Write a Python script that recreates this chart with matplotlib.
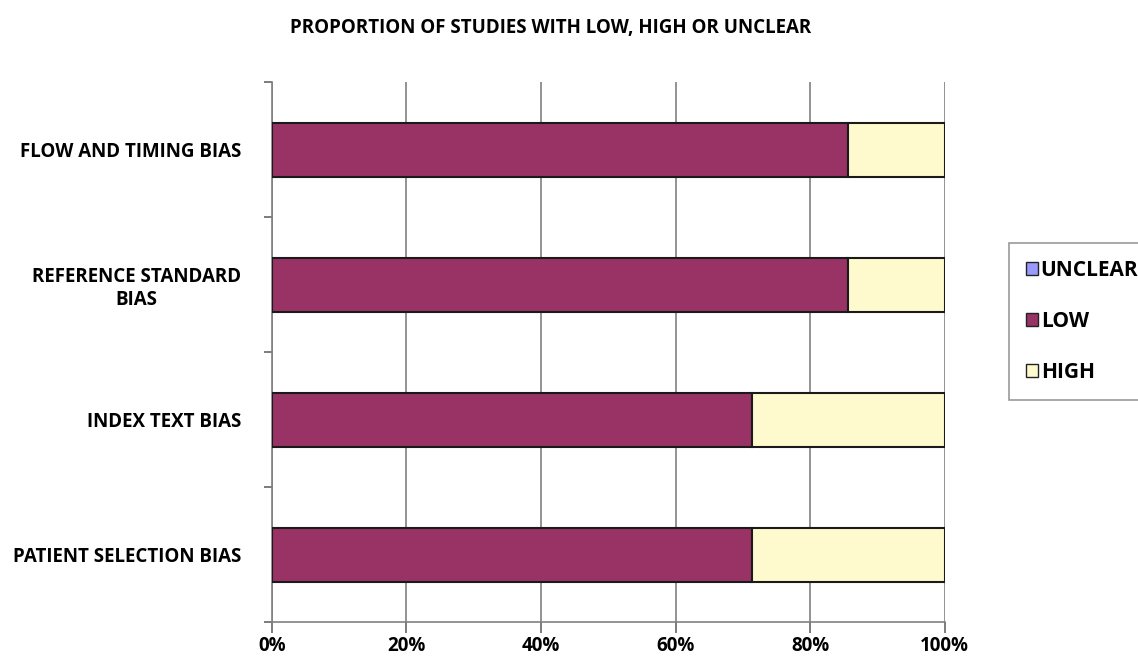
import matplotlib
matplotlib.use("Agg")
import matplotlib.pyplot as plt
from matplotlib.patches import Patch
from matplotlib.ticker import FixedLocator

plt.rcParams['font.family'] = ['Open Sans', 'DejaVu Sans']
plt.rcParams['font.weight'] = 'bold'

# data (bottom to top)
categories = ['PATIENT SELECTION BIAS', 'INDEX TEXT BIAS',
              'REFERENCE STANDARD\nBIAS', 'FLOW AND TIMING BIAS']
low = [71.4, 71.4, 85.7, 85.7]
high = [28.6, 28.6, 14.3, 14.3]
unclear = [0, 0, 0, 0]
xticks = [0, 20, 40, 60, 80, 100]

c_low = '#993366'
c_high = '#FFFACD'
c_unclear = '#9999FF'

fig = plt.figure(figsize=(11.38, 6.62), dpi=100)
ax = fig.add_axes([0.239, 0.060, 0.591, 0.816])

y = list(range(len(categories)))
ax.barh(y, low, height=0.4, color=c_low, edgecolor='#1a1a1a', linewidth=1.5, zorder=3)
ax.barh(y, high, left=low, height=0.4, color=c_high, edgecolor='#1a1a1a', linewidth=1.5, zorder=3)

ax.set_xlim(0, 100)
ax.set_ylim(-0.5, 3.5)
ax.set_xticks(xticks)
ax.set_xticklabels([f'{v}%' for v in xticks], fontsize=13.5, fontweight='bold')
ax.set_yticks(y)
ax.set_yticklabels(categories, fontsize=13.5, fontweight='bold', ha='right',
                   multialignment='center')
ax.tick_params(axis='y', which='major', length=0, pad=22)
ax.yaxis.set_minor_locator(FixedLocator([-0.5, 0.5, 1.5, 2.5, 3.5]))
ax.tick_params(axis='y', which='minor', length=6, color='#666666', width=1.2)
ax.tick_params(axis='x', length=8, color='#666666', width=1.2, pad=2)

ax.grid(axis='x', color='#808080', linewidth=1.2, zorder=0)
for s in ['top', 'right']:
    ax.spines[s].set_visible(False)
ax.spines['left'].set_color('#808080')
ax.spines['bottom'].set_color('#808080')
ax.spines['left'].set_linewidth(1.2)
ax.spines['bottom'].set_linewidth(1.2)

fig.text(0.484, 0.958, 'PROPORTION OF STUDIES WITH LOW, HIGH OR UNCLEAR',
         ha='center', va='center', fontsize=13.5, fontweight='bold')

handles = [Patch(facecolor=c_unclear, edgecolor='#222222'),
           Patch(facecolor=c_low, edgecolor='#222222'),
           Patch(facecolor=c_high, edgecolor='#222222')]
leg = fig.legend(handles, ['UNCLEAR', 'LOW', 'HIGH'], loc='upper left',
                 bbox_to_anchor=(0.887, 0.633), frameon=True, fancybox=False,
                 handlelength=0.55, handleheight=0.55, handletextpad=0.15,
                 labelspacing=1.45, borderpad=0.8, borderaxespad=0,
                 prop={'weight': 'bold', 'size': 15})
leg.get_frame().set_edgecolor('#808080')
leg.get_frame().set_linewidth(1.2)

fig.savefig('out.png', dpi=100)
